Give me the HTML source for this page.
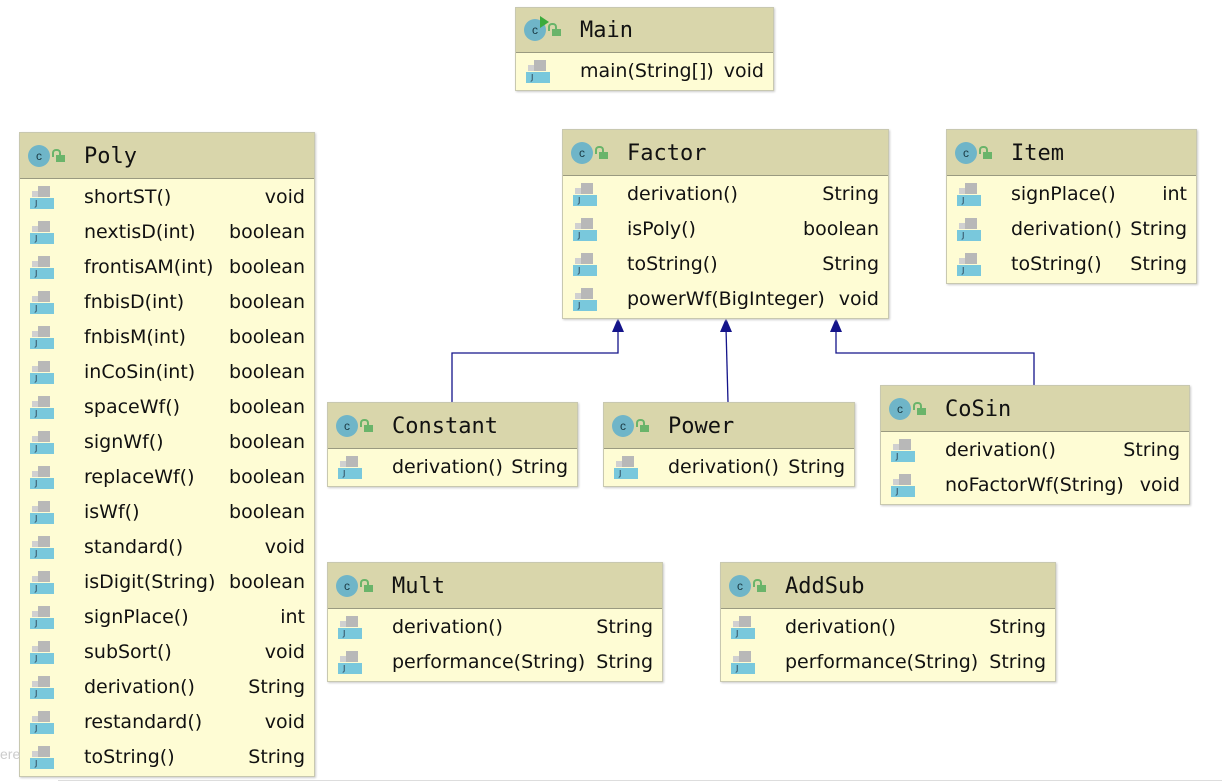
<!DOCTYPE html>
<html><head><meta charset="utf-8"><style>
html,body{margin:0;padding:0;background:#fff;width:1222px;height:784px;overflow:hidden;position:relative;font-family:"Liberation Sans",sans-serif}
.box{position:absolute;background:#fefcd4;border:1px solid #c8c8b0;box-shadow:1px 1px 2px #ccc}
.hd{position:absolute;left:0;right:0;top:0;background:#d9d6ab;border-bottom:1px solid #9a9a80}
.hd .t{position:absolute;left:64px;font-family:"DejaVu Sans Mono","Liberation Mono",monospace;font-size:22px;color:#111}
.ci{position:absolute;left:8px;width:22px;height:22px;border-radius:50%;background:#6fb5c8;color:#1a3a44;font-size:12px;text-align:center;line-height:22px;font-family:"Liberation Sans",sans-serif}
.lk{position:absolute;left:36px;width:9px;height:7px;background:#6ab46a}
.lk:before{content:"";position:absolute;left:-4px;top:-6px;width:5px;height:6px;border:2px solid #6ab46a;border-bottom:none;border-radius:4px 4px 0 0}
.row{position:absolute;left:0;right:0;height:35px;font-size:19px;color:#111;font-family:"DejaVu Sans",sans-serif}
.row .n{position:absolute;left:64px;top:6px;white-space:nowrap}
.row .ty{position:absolute;right:9px;top:6px}
.mi{position:absolute;left:10px;top:6px;width:24px;height:23px}
.mi .a{position:absolute;left:8px;top:0;width:12px;height:11px;background:#b8b8b8}
.mi .a2{position:absolute;left:2px;top:5px;width:7px;height:6px;background:#d0d0d0}
.mi .b{position:absolute;left:0;top:12px;width:24px;height:11px;background:#79c8dc;font-size:8px;line-height:11px;text-indent:5px;color:#234}
</style></head><body>
<svg width="1222" height="784" style="position:absolute;left:0;top:0">
<g stroke="#14148a" stroke-width="1.3" fill="none">
<polyline points="452,402 452,353 618,353 618,328"/>
<polyline points="728,402 726,328"/>
<polyline points="1034,385 1034,353 836,353 836,328"/>
</g>
<g fill="#14148a">
<polygon points="618,318 612,332 624,332"/>
<polygon points="726,318 720,332 732,332"/>
<polygon points="836,318 830,332 842,332"/>
</g>
</svg>
<div id="c"></div>
<script>
function box(x,y,w,hh,name,rows,main){
 var h='<div class="box" style="left:'+x+'px;top:'+y+'px;width:'+w+'px;height:'+(hh+rows.length*35+3)+'px">';
 var m=hh/2;
 h+='<div class="hd" style="height:'+hh+'px"><div class="ci" style="top:'+(m-11)+'px">c</div>'+(main?'<div style="position:absolute;left:24px;top:'+(m-14)+'px;width:0;height:0;border-left:9px solid #3cab3c;border-top:6px solid transparent;border-bottom:6px solid transparent"></div>':'')+'<div class="lk" style="top:'+(m-1)+'px"></div><div class="t" style="top:'+(m-12)+'px">'+name+'</div></div>';
 for(var i=0;i<rows.length;i++){
  h+='<div class="row" style="top:'+(hh+2+i*35)+'px"><div class="mi"><div class="a2"></div><div class="a"></div><div class="b">J</div></div><div class="n">'+rows[i][0]+'</div><div class="ty">'+rows[i][1]+'</div></div>';
 }
 return h+'</div>';
}
var s='';
s+=box(515,7,257,44,'Main',[['main(String[])','void']],1);
s+=box(19,132,294,45,'Poly',[['shortST()','void'],['nextisD(int)','boolean'],['frontisAM(int)','boolean'],['fnbisD(int)','boolean'],['fnbisM(int)','boolean'],['inCoSin(int)','boolean'],['spaceWf()','boolean'],['signWf()','boolean'],['replaceWf()','boolean'],['isWf()','boolean'],['standard()','void'],['isDigit(String)','boolean'],['signPlace()','int'],['subSort()','void'],['derivation()','String'],['restandard()','void'],['toString()','String']]);
s+=box(562,129,325,45,'Factor',[['derivation()','String'],['isPoly()','boolean'],['toString()','String'],['powerWf(BigInteger)','void']]);
s+=box(946,129,249,45,'Item',[['signPlace()','int'],['derivation()','String'],['toString()','String']]);
s+=box(327,402,249,45,'Constant',[['derivation()','String']]);
s+=box(603,402,250,45,'Power',[['derivation()','String']]);
s+=box(880,385,308,45,'CoSin',[['derivation()','String'],['noFactorWf(String)','void']]);
s+=box(327,562,334,45,'Mult',[['derivation()','String'],['performance(String)','String']]);
s+=box(720,562,334,45,'AddSub',[['derivation()','String'],['performance(String)','String']]);
document.getElementById('c').innerHTML=s;
</script>
<div style="position:absolute;left:0;top:746px;font-size:14px;color:#ccc">ere</div>
<div style="position:absolute;left:58px;top:780px;width:1164px;height:1px;background:#ddd"></div>
</body></html>
